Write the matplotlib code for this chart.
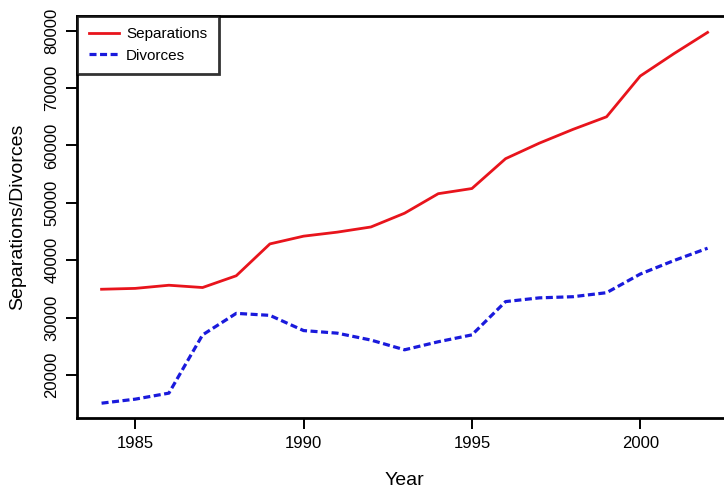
import matplotlib
matplotlib.use("Agg")
import matplotlib.pyplot as plt

plt.rcParams["font.family"] = ["Liberation Sans", "DejaVu Sans"]

years = list(range(1984, 2003))
separations = [34950, 35100, 35650, 35250, 37300, 42850, 44200, 44900, 45800,
               48200, 51600, 52500, 57700, 60400, 62800, 65000, 72100, 76000, 79700]
divorces = [15100, 15800, 16850, 27000, 30750, 30400, 27750, 27300, 26100,
            24400, 25800, 27000, 32800, 33450, 33650, 34350, 37600, 39950, 42100]

xticks = [1985, 1990, 1995, 2000]
yticks = [20000, 30000, 40000, 50000, 60000, 70000, 80000]

fig = plt.figure(figsize=(7.24, 4.91), dpi=100)
ax = fig.add_axes([0.1068, 0.148, 0.904, 0.820])

ax.plot(years, separations, color="#e8141c", lw=2.0, label="Separations")
ax.plot(years, divorces, color="#1a1adc", lw=2.3, linestyle=(0, (2.2, 1.1)),
        label="Divorces")

ax.set_xlim(1983.28, 2002.72)
ax.set_ylim(12460, 82610)
ax.set_xticks(xticks)
ax.set_yticks(yticks)
ax.set_yticklabels([str(v) for v in yticks], rotation=90, va="center")
ax.tick_params(axis="both", direction="out", length=8, width=1.4,
               labelsize=12, color="black")
ax.tick_params(axis="x", pad=5)
ax.tick_params(axis="y", pad=5)
for s in ax.spines.values():
    s.set_linewidth(2.0)

ax.set_xlabel("Year", fontsize=14, labelpad=15)
ax.set_ylabel("Separations/Divorces", fontsize=14, labelpad=13)

leg = ax.legend(loc="upper left", bbox_to_anchor=(0, 1), fontsize=11,
                frameon=True, fancybox=False, handlelength=1.95,
                handletextpad=0.5, labelspacing=0.5, borderpad=0.75,
                borderaxespad=0)
leg.get_frame().set_edgecolor("black")
leg.get_frame().set_linewidth(2.0)

fig.savefig("out.png", dpi=100)
